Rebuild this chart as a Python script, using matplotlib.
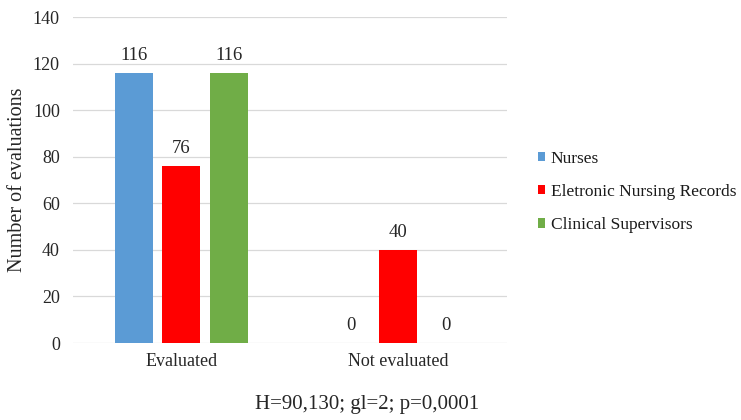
import numpy as np
import matplotlib
matplotlib.use("Agg")
import matplotlib.pyplot as plt

categories = ["Evaluated", "Not evaluated"]
series_names = ["Nurses", "Eletronic Nursing Records", "Clinical Supervisors"]
nurses = [116, 0]
records = [76, 40]
supervisors = [116, 0]
yticks = [0, 20, 40, 60, 80, 100, 120, 140]
footnote = "H=90,130; gl=2; p=0,0001"

colors = ["#5B9BD5", "#FF0000", "#70AD47"]
text_color = "#262626"

plt.rcParams["font.family"] = ["Liberation Serif", "DejaVu Serif"]

fig = plt.figure(figsize=(7.41, 4.20), dpi=100)
ax = fig.add_axes([0.0985, 0.1833, 0.5855, 0.7762])

x = np.arange(len(categories))
width = 0.175
offsets = [-0.22, 0.0, 0.22]
for vals, name, col, off in zip([nurses, records, supervisors], series_names, colors, offsets):
    bars = ax.bar(x + off, vals, width, color=col, label=name, zorder=3)
    for b, v in zip(bars, vals):
        ax.annotate(f"{v}", (b.get_x() + b.get_width() / 2, v),
                    xytext=(0, 6.5), textcoords="offset points",
                    ha="center", va="bottom", fontsize=13.5, color=text_color)

ax.set_xlim(-0.5, 1.5)
ax.set_ylim(0, 140)
ax.set_yticks(yticks)
ax.set_xticks(x)
ax.set_xticklabels(categories)
ax.tick_params(axis="both", length=0, labelsize=13, colors=text_color)
ax.tick_params(axis="y", pad=9.5)
ax.tick_params(axis="x", pad=7)
ax.grid(axis="y", color="#D9D9D9", linewidth=0.9, zorder=0)
for s in ax.spines.values():
    s.set_visible(False)
ax.set_ylabel("Number of evaluations", fontsize=14.5, color=text_color, labelpad=4)

leg = fig.legend(loc="upper left", bbox_to_anchor=(0.716, 0.657), frameon=False,
                 fontsize=12.5, handlelength=0.45, handleheight=0.45,
                 handletextpad=0.3, labelspacing=0.98, borderaxespad=0)
for t in leg.get_texts():
    t.set_color("#1a1a1a")

fig.text(0.495, 0.036, footnote, ha="center", va="center", fontsize=15, color=text_color)

fig.savefig("out.png", dpi=100)
